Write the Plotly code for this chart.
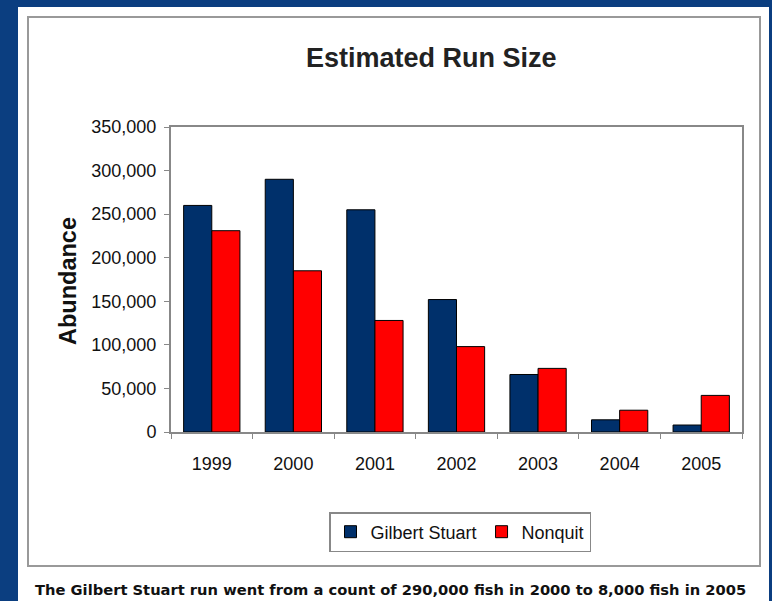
import plotly.graph_objects as go

years = ["1999", "2000", "2001", "2002", "2003", "2004", "2005"]
gilbert_stuart = [260000, 290000, 255000, 152000, 66000, 14000, 8000]
nonquit = [231000, 185000, 128000, 98000, 73000, 25000, 42000]

W, H = 772, 601
L, R, T, B = 171, 742, 127, 432  # plot area pixels
PW, PH = R - L, B - T

def px(x):
    return (x - L) / PW

def py(y):
    return (B - y) / PH

FONT = "Liberation Sans, Arial, sans-serif"

fig = go.Figure()
fig.add_trace(go.Bar(x=years, y=gilbert_stuart, name="Gilbert Stuart",
                     marker=dict(color="#00306b", line=dict(color="#000000", width=1))))
fig.add_trace(go.Bar(x=years, y=nonquit, name="Nonquit",
                     marker=dict(color="#ff0000", line=dict(color="#000000", width=1))))

fig.update_layout(
    width=W, height=H,
    margin=dict(l=L, r=W - R, t=T, b=H - B, pad=0),
    paper_bgcolor="#0b3e80",
    plot_bgcolor="#ffffff",
    barmode="group",
    bargap=0.31,
    bargroupgap=0,
    font=dict(family=FONT, size=18, color="#111111"),
    showlegend=True,
    legend=dict(orientation="h", x=px(460), xanchor="center", y=py(512), yanchor="top",
                bordercolor="#888888", borderwidth=1.5, bgcolor="#ffffff",
                font=dict(size=18, family=FONT, color="#111111"),
                itemwidth=30, tracegroupgap=0),
    shapes=[
        dict(type="rect", xref="paper", yref="paper", x0=px(18), x1=px(769), y0=py(601), y1=py(7),
             fillcolor="#ffffff", line=dict(width=0), layer="below"),
        dict(type="rect", xref="paper", yref="paper", x0=px(28), x1=px(760), y0=py(566), y1=py(17),
             fillcolor="rgba(0,0,0,0)", line=dict(color="#999999", width=2), layer="below"),
    ],
    annotations=[
        dict(text="<b>Estimated Run Size</b>", xref="paper", yref="paper", x=px(431), y=py(58),
             xanchor="center", yanchor="middle", showarrow=False,
             font=dict(size=27, family=FONT, color="#222222")),
        dict(text="<b>Abundance</b>", xref="paper", yref="paper", x=px(68), y=py(281),
             xanchor="center", yanchor="middle", textangle=-90, showarrow=False,
             font=dict(size=23.5, family=FONT, color="#111111")),
        dict(text="<b>The Gilbert Stuart run went from a count of 290,000 fish in 2000 to 8,000 fish in 2005</b>",
             xref="paper", yref="paper", x=px(390), y=py(589), xanchor="center", yanchor="middle",
             showarrow=False, font=dict(size=14.7, family="DejaVu Sans, Verdana, sans-serif", color="#111111")),
    ],
)

fig.update_yaxes(range=[0, 350000], tick0=0, dtick=50000, tickformat=",d",
                 showgrid=False, zeroline=False,
                 showline=True, linecolor="#888888", linewidth=2, mirror=True,
                 ticks="outside", ticklen=5, tickcolor="#888888", tickwidth=1,
                 ticklabelstandoff=4,
                 tickfont=dict(size=18, family=FONT, color="#111111"))
fig.update_xaxes(showgrid=False, zeroline=False,
                 showline=True, linecolor="#888888", linewidth=2, mirror=True,
                 ticks="outside", ticklen=5, tickcolor="#888888", tickwidth=1,
                 tickson="boundaries", ticklabelstandoff=14,
                 tickfont=dict(size=18, family=FONT, color="#111111"))

fig.write_html("out.html")
